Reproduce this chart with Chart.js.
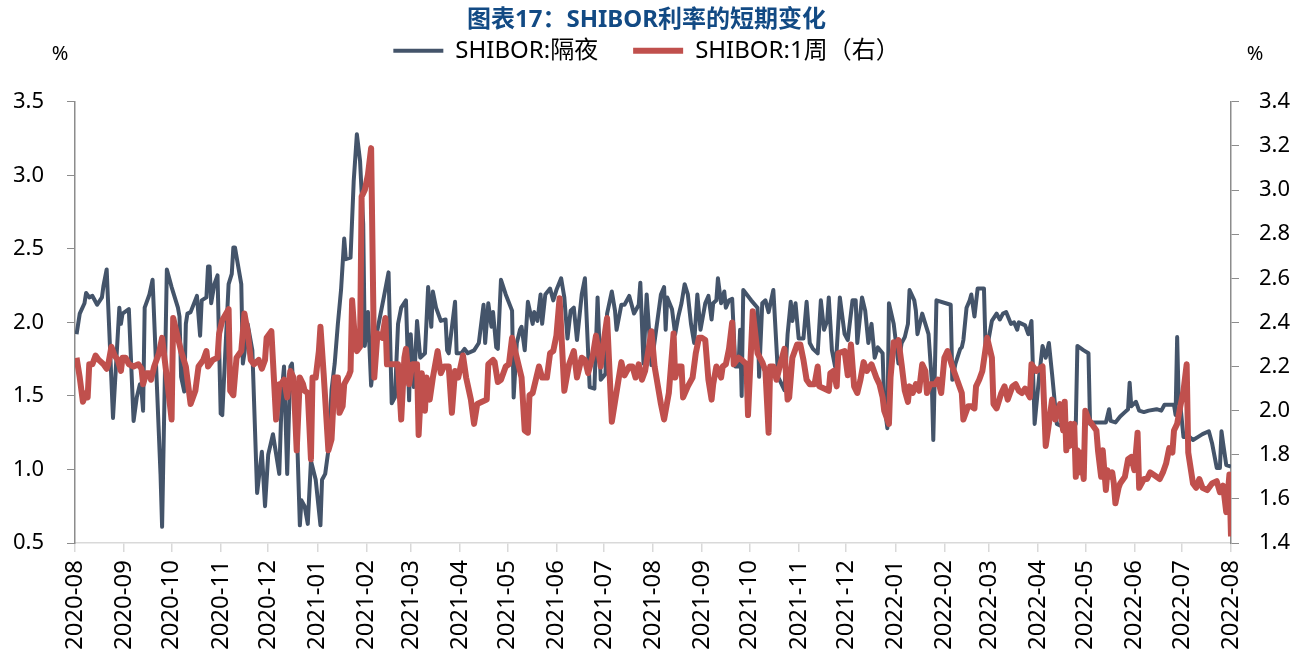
<!DOCTYPE html>
<html>
<head>
<meta charset="utf-8">
<title>SHIBOR利率的短期变化</title>
<script src="https://cdn.jsdelivr.net/npm/chart.js@4/dist/chart.umd.min.js"></script>
<style>
html,body{margin:0;padding:0;background:#fff}
canvas{display:block}
</style>
</head>
<body>
<canvas id="c" width="1293" height="655"></canvas>
<script>
// x axis = days since 2020-08-01, labels at each month start
const monthLabels = ['2020-08','2020-09','2020-10','2020-11','2020-12','2021-01','2021-02','2021-03','2021-04',
  '2021-05','2021-06','2021-07','2021-08','2021-09','2021-10','2021-11','2021-12','2022-01','2022-02',
  '2022-03','2022-04','2022-05','2022-06','2022-07','2022-08'];

// SHIBOR:隔夜 (left axis, %)
const ovnDays = [
  1,3,6,7,9,11,14,17,18,20,
  24,28,29,30,34,37,39,41,42,43,
  44,47,49,54,55,58,61,65,66,67,
  69,70,71,73,77,79,80,83,84,85,
  86,88,90,92,93,97,99,100,101,105,
  106,107,109,112,115,118,120,122,125,129,
  130,131,132,134,136,137,138,140,142,143,
  145,147,149,152,155,156,158,160,162,164,
  166,168,170,171,174,176,178,180,182,183,
  185,187,191,195,198,200,202,204,206,209,
  211,212,214,216,218,221,223,225,226,228,
  231,234,235,236,240,241,244,246,248,252,
  255,258,259,261,263,264,266,267,269,272,
  276,277,279,281,282,284,286,289,290,292,
  294,295,297,300,302,304,307,309,311,313,
  315,317,320,322,325,328,330,332,335,336,
  339,341,342,345,347,350,353,356,357,359,
  361,364,367,370,372,373,374,377,379,381,
  383,385,387,389,391,393,395,398,400,402,
  403,405,406,408,410,411,413,415,417,419,
  420,421,422,427,431,432,434,436,438,441,
  444,448,450,452,453,455,457,460,462,464,
  466,469,471,473,475,476,478,480,481,483,
  486,488,491,493,494,497,499,501,503,505,
  507,510,511,513,514,517,520,522,524,526,
  527,530,531,532,535,537,539,541,542,544,
  553,554,556,559,560,561,563,565,566,568,
  570,574,575,577,579,582,584,586,588,591,
  593,595,596,598,600,602,604,606,609,611,
  613,615,617,620,624,626,628,632,633,637,
  640,641,643,651,653,654,657,660,663,665,
  666,667,670,672,675,678,683,686,688,694,
  695,696,697,698,700,704,706,709,712,716,
  718,721,723,724,725,727,730];
const ovnRates = [
  1.92,2.06,2.13,2.20,2.17,2.18,2.12,2.17,2.25,2.36,
  1.35,2.10,1.99,2.06,2.09,1.33,1.49,1.58,1.54,1.40,
  2.10,2.19,2.29,0.97,0.61,2.36,2.24,2.10,2.04,1.63,
  1.53,1.99,2.06,2.07,2.18,1.91,2.15,2.17,2.38,2.38,
  2.13,2.26,2.32,1.38,1.37,2.26,2.33,2.51,2.51,2.26,
  1.72,1.79,1.99,1.81,0.84,1.12,0.75,1.10,1.24,0.97,
  1.31,1.58,1.70,0.97,1.70,1.72,1.54,1.31,0.62,0.79,
  0.75,0.63,1.06,0.93,0.62,0.93,0.97,1.13,1.54,1.72,
  1.99,2.22,2.57,2.43,2.44,2.96,3.28,3.10,2.67,1.84,
  2.07,1.57,1.95,2.17,2.34,1.45,1.49,1.99,2.10,2.15,
  1.47,1.92,1.56,2.01,1.76,1.79,2.24,1.97,2.21,2.10,
  2.01,2.02,1.81,1.79,2.14,1.79,1.79,1.82,1.79,1.81,
  1.86,2.12,1.86,2.13,1.97,2.07,1.83,1.82,2.29,2.19,
  2.08,1.49,1.86,1.95,1.97,1.81,2.14,1.99,2.07,2.01,
  2.19,1.99,2.19,2.23,2.15,2.22,2.30,2.17,1.89,2.08,
  2.10,1.88,2.19,2.30,1.56,1.55,2.17,1.61,1.65,2.06,
  2.21,2.08,1.95,2.12,2.12,2.18,2.06,2.12,2.27,1.72,
  2.19,1.71,1.95,2.19,2.24,1.95,2.17,2.09,1.92,2.04,
  2.13,2.26,2.19,1.99,1.86,2.19,1.95,2.13,2.18,2.02,
  2.13,2.15,2.30,2.13,2.21,2.10,2.15,2.16,1.70,1.70,
  1.95,1.50,2.22,2.15,2.10,1.63,2.13,2.15,2.07,2.22,
  1.63,1.54,1.92,2.14,2.01,2.13,1.89,1.89,2.14,1.86,
  1.82,1.79,2.15,1.95,2.01,2.17,1.81,1.70,1.81,2.17,
  1.92,1.88,2.15,2.15,1.86,2.17,2.08,1.86,1.99,1.76,
  1.83,1.79,1.45,1.28,2.13,1.99,1.72,1.86,1.90,1.99,
  2.22,2.15,2.08,1.92,2.06,1.99,1.92,1.61,1.20,2.15,
  2.12,1.61,1.72,1.82,1.83,1.88,2.10,2.15,2.19,2.04,
  2.23,2.23,1.83,1.89,2.01,2.06,2.02,2.06,2.07,1.99,
  2.00,1.95,2.00,1.99,1.98,1.92,2.01,1.31,1.65,1.84,
  1.76,1.86,1.65,1.31,1.29,1.26,1.31,1.31,1.84,1.81,
  1.79,1.31,1.32,1.32,1.41,1.33,1.32,1.36,1.39,1.41,
  1.59,1.43,1.46,1.40,1.39,1.40,1.41,1.40,1.44,1.44,
  1.37,1.90,1.45,1.44,1.22,1.22,1.20,1.22,1.24,1.26,
  1.18,1.01,1.01,1.26,1.18,1.03,1.02];

// SHIBOR:1周 (right axis, %)
const w1Days = [
  1,3,5,7,8,9,11,13,15,18,
  20,21,23,25,27,29,30,32,34,37,
  40,42,43,45,47,48,50,53,55,58,
  61,62,65,67,70,73,76,78,81,83,
  84,87,90,91,93,97,98,100,102,105,
  107,109,111,113,116,118,120,121,124,127,
  129,130,132,134,136,138,140,142,144,145,
  147,149,150,152,154,155,157,160,162,164,
  166,167,169,170,173,174,175,177,178,180,
  181,183,185,187,189,191,194,196,197,200,
  204,206,208,209,211,213,216,217,219,221,
  222,224,226,229,231,233,236,238,240,242,
  245,247,250,252,254,257,260,261,264,265,
  267,269,272,274,276,278,282,284,286,287,
  289,291,293,295,298,300,302,304,306,309,
  312,315,317,320,322,324,327,329,332,333,
  336,339,341,343,345,347,350,352,354,356,
  358,360,364,366,370,372,375,378,379,381,
  383,384,387,390,392,394,396,398,400,402,
  403,405,408,409,411,413,415,416,419,421,
  424,425,428,431,434,436,438,439,441,443,
  445,448,450,451,453,456,458,460,462,464,
  467,469,470,473,476,477,479,481,482,486,
  488,490,492,494,496,498,500,503,506,508,
  510,511,514,515,517,519,520,522,524,526,
  527,529,531,533,535,537,538,540,543,545,
  547,549,551,554,557,560,561,564,566,568,
  569,571,573,576,579,580,582,585,587,589,
  592,594,596,598,600,603,604,607,609,611,
  613,615,617,619,622,624,625,626,627,628,
  629,630,631,632,633,634,635,637,638,640,
  643,645,646,648,649,651,652,653,655,656,
  657,659,660,663,665,667,669,671,672,675,
  677,679,683,685,687,689,691,693,694,696,
  698,700,702,703,706,708,710,712,715,718,
  721,723,725,727,729,730];
const w1Rates = [
  2.24,2.15,2.04,2.08,2.06,2.21,2.21,2.25,2.23,2.21,
  2.19,2.21,2.29,2.25,2.23,2.18,2.24,2.24,2.21,2.20,
  2.21,2.19,2.12,2.17,2.17,2.14,2.20,2.26,2.33,2.15,
  1.96,2.42,2.33,2.27,2.20,2.03,2.09,2.20,2.23,2.27,
  2.20,2.23,2.24,2.35,2.41,2.46,2.09,2.07,2.24,2.27,
  2.44,2.36,2.23,2.21,2.23,2.19,2.23,2.33,2.36,1.96,
  2.12,2.12,2.14,2.06,2.18,2.15,1.82,2.15,2.12,2.09,
  2.08,1.78,2.15,2.15,2.27,2.38,2.17,1.82,1.87,2.15,
  2.15,1.99,2.02,2.12,2.16,2.18,2.50,2.30,2.27,2.29,
  2.97,3.00,3.07,3.19,2.15,2.35,2.33,2.42,2.21,2.21,
  2.21,1.96,2.24,2.28,2.12,2.21,2.21,1.89,2.17,2.00,
  2.15,2.05,2.15,2.27,2.17,2.20,2.20,1.99,2.18,2.15,
  2.25,2.15,2.05,1.94,2.03,2.04,2.05,2.21,2.23,2.22,
  2.13,2.14,2.20,2.21,2.33,2.27,2.15,1.91,1.90,2.07,
  2.08,2.14,2.20,2.15,2.15,2.26,2.27,2.34,2.51,2.09,
  2.21,2.27,2.15,2.24,2.23,2.17,2.25,2.34,2.20,2.27,
  2.42,1.95,2.04,2.13,2.22,2.16,2.20,2.20,2.15,2.21,
  2.14,2.18,2.36,2.20,2.03,1.96,2.08,2.35,2.15,2.20,
  2.20,2.06,2.11,2.15,2.26,2.33,2.33,2.32,2.14,2.05,
  2.12,2.20,2.15,2.20,2.21,2.28,2.40,2.21,2.24,2.23,
  2.21,1.98,2.45,2.26,2.22,2.18,1.90,2.20,2.20,2.14,
  2.20,2.28,2.05,2.06,2.24,2.30,2.30,2.23,2.14,2.12,
  2.12,2.20,2.11,2.10,2.09,2.17,2.18,2.11,2.26,2.27,
  2.16,2.30,2.11,2.08,2.14,2.22,2.18,2.21,2.15,2.12,
  2.06,2.00,1.94,2.15,2.31,2.30,2.32,2.21,2.09,2.04,
  2.11,2.08,2.12,2.09,2.21,2.18,2.08,2.12,2.12,2.14,
  2.08,2.24,2.27,2.20,2.14,2.08,1.96,2.02,2.02,2.01,
  2.11,2.14,2.18,2.33,2.24,2.03,2.01,2.08,2.11,2.05,
  2.11,2.12,2.09,2.08,2.10,2.06,2.21,2.18,2.19,2.20,
  1.84,1.94,2.05,1.96,2.03,1.91,2.04,1.82,1.88,1.84,
  1.94,1.88,1.94,1.70,1.82,1.72,1.81,1.69,2.00,1.96,
  1.93,1.91,1.82,1.70,1.82,1.64,1.73,1.70,1.72,1.67,
  1.58,1.65,1.67,1.70,1.78,1.79,1.73,1.90,1.65,1.69,
  1.69,1.72,1.70,1.69,1.72,1.76,1.83,1.81,1.91,1.94,
  2.02,2.09,2.21,1.81,1.67,1.65,1.69,1.65,1.64,1.67,
  1.68,1.63,1.66,1.54,1.71,1.43];

const FONT = "'Noto Sans', 'Noto Sans CJK SC', sans-serif";
const DAY = 86400000;
const origin = Date.UTC(2020, 7, 1);
const monthDays = monthLabels.map(s => {
  const [y, m] = s.split('-').map(Number);
  return Math.round((Date.UTC(y, m - 1, 1) - origin) / DAY);
});

function pts(days, vals){ return days.map((d, i) => ({x: d, y: vals[i]})); }

// push the plot down below the legend
const legendGap = {
  id: 'legendGap',
  beforeLayout(chart){
    const lg = chart.legend;
    if(!lg || lg._gapPatched) return;
    const fit = lg.fit;
    lg.fit = function(){ fit.call(this); this.height += 29; };
    lg._gapPatched = true;
  }
};

// the two "%" unit marks above the axes
const unitMarks = {
  id: 'unitMarks',
  afterDraw(chart){
    const {ctx, chartArea} = chart;
    ctx.save();
    ctx.font = '20px ' + FONT;
    ctx.fillStyle = '#000';
    ctx.textAlign = 'center';
    ctx.textBaseline = 'middle';
    ctx.fillText('%', chartArea.left - 15, 54);
    ctx.fillText('%', chartArea.right + 24, 54);
    ctx.restore();
  }
};

new Chart(document.getElementById('c'), {
  type: 'line',
  data: {
    datasets: [
      {
        label: 'SHIBOR:隔夜',
        data: pts(ovnDays, ovnRates),
        yAxisID: 'y',
        borderColor: '#44546A',
        backgroundColor: '#44546A',
        borderWidth: 4,
        pointRadius: 0,
        borderJoinStyle: 'round',
        order: 1
      },
      {
        label: 'SHIBOR:1周（右）',
        data: pts(w1Days, w1Rates),
        yAxisID: 'y1',
        borderColor: '#C0504D',
        backgroundColor: '#C0504D',
        borderWidth: 6,
        pointRadius: 0,
        borderJoinStyle: 'round',
        order: 0
      }
    ]
  },
  options: {
    responsive: false,
    animation: false,
    devicePixelRatio: 1,
    layout: { padding: 0 },
    plugins: {
      title: {
        display: true,
        text: '图表17：SHIBOR利率的短期变化',
        color: '#124A84',
        font: { size: 24, weight: 'bold', family: FONT },
        padding: { top: 6, bottom: -31 }
      },
      legend: {
        position: 'top',
        labels: {
          usePointStyle: true,
          pointStyleWidth: 50,
          pointStyle: 'line',
          padding: 35,
          color: '#000',
          font: { size: 24, family: FONT },
          sort: (a, b) => a.datasetIndex - b.datasetIndex
        }
      },
      tooltip: { enabled: false }
    },
    scales: {
      x: {
        type: 'linear',
        min: 0,
        max: 730,
        afterBuildTicks: s => { s.ticks = monthDays.map(v => ({value: v})); },
        afterFit: s => { s.height = 112; },
        ticks: {
          autoSkip: false,
          maxRotation: 90,
          minRotation: 90,
          padding: 8,
          color: '#000',
          font: { size: 24, family: FONT },
          callback: v => monthLabels[monthDays.indexOf(v)]
        },
        grid: { drawOnChartArea: false, drawTicks: true, tickLength: 9, color: '#D9D9D9', lineWidth: 1.5 },
        border: { color: '#D9D9D9', width: 1.5 }
      },
      y: {
        position: 'left',
        min: 0.5,
        max: 3.5,
        afterFit: s => { s.width = 75; },
        ticks: {
          stepSize: 0.5,
          padding: 23,
          color: '#000',
          font: { size: 22, family: FONT },
          callback: v => v.toFixed(1)
        },
        grid: { drawOnChartArea: false, tickLength: 8, color: '#8C8C8C' },
        border: { color: '#8C8C8C', width: 1.5 }
      },
      y1: {
        position: 'right',
        min: 1.4,
        max: 3.4,
        afterFit: s => { s.width = 62; },
        ticks: {
          stepSize: 0.2,
          padding: 20,
          color: '#000',
          font: { size: 22, family: FONT },
          callback: v => v.toFixed(1)
        },
        grid: { drawOnChartArea: false, tickLength: 8, color: '#8C8C8C' },
        border: { color: '#8C8C8C', width: 1.5 }
      }
    }
  },
  plugins: [legendGap, unitMarks]
});
</script>
</body>
</html>
